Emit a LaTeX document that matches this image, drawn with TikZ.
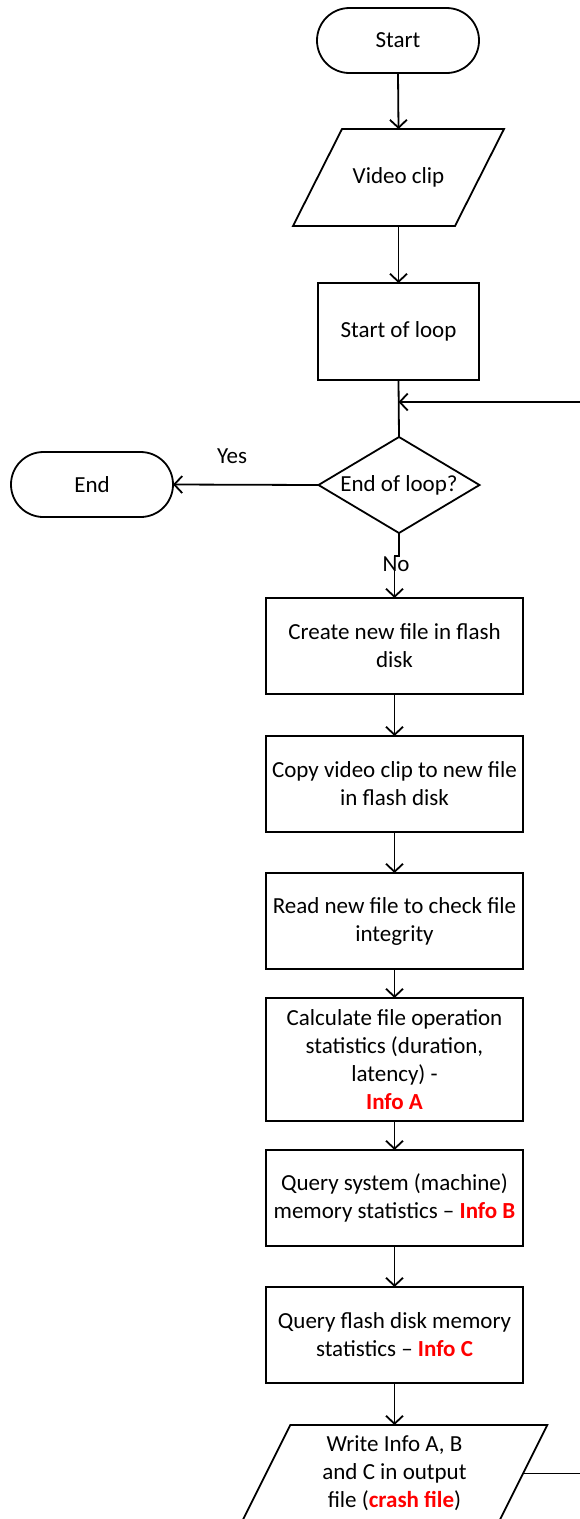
\documentclass[tikz,border=0pt]{standalone}
\usepackage{fontspec}
\setmainfont{Carlito}
\usetikzlibrary{arrows.meta}
\definecolor{infored}{RGB}{255,0,0}
\newcommand{\infotag}[1]{\textcolor{infored}{\textbf{#1}}}
\tikzset{
  base/.style={font=\fontsize{23}{28}\selectfont, align=center, inner sep=0pt, outer sep=0pt},
  term/.style={base, draw, line width=1.8pt, rounded corners=32.4pt, minimum width=162pt, minimum height=65pt},
  procbox/.style={base, draw, line width=1.8pt, minimum width=257pt, minimum height=96pt},
  frame/.style={base, minimum width=#1, minimum height=97pt},
  outline/.style={line width=1.8pt, line join=miter},
  plainline/.style={line width=1.8pt},
  flow/.style={line width=1.8pt, -{Straight Barb[length=8pt,width=17pt,line width=1.8pt]}},
  lbl/.style={font=\fontsize{23}{28}\selectfont, inner sep=0pt}
}
\begin{document}
\begin{tikzpicture}[x=1pt, y=-1pt]
\useasboundingbox (0,0) rectangle (580,1519);
\clip (0,0) rectangle (580,1519);

% terminals, input shapes and decision
\node[term] (start) at (398,40.5) {Start};
\node[frame=162pt] (vid) at (398.5,177.5) {Video clip};
\draw[outline] ([xshift=24.5pt]vid.north west) -- ([xshift=24.5pt]vid.north east)
  -- ([xshift=-24.5pt]vid.south east) -- ([xshift=-24.5pt]vid.south west) -- cycle;
\node[procbox, minimum width=161pt, minimum height=97pt] (sol) at (398.5,331.5) {Start of loop};
\node[frame=161pt, minimum height=96pt] (dec) at (399,485) {End of loop?};
\draw[outline] (dec.north) -- (dec.east) -- (dec.south) -- (dec.west) -- cycle;
\node[term] (end) at (92,484.5) {End};

% loop body
\node[procbox] (b1) at (394.5,646) {Create new file in flash\\disk};
\node[procbox] (b2) at (394.5,784) {Copy video clip to new file\\in flash disk};
\node[procbox] (b3) at (394.5,921) {Read new file to check file\\integrity};
\node[procbox, minimum height=123pt] (b4) at (394.5,1059.5)
  {Calculate file operation\\statistics (duration,\\latency) -\\\infotag{Info A}};
\node[procbox] (b5) at (394.5,1198) {Query system (machine)\\memory statistics – \infotag{Info B}};
\node[procbox] (b6) at (394.5,1335) {Query flash disk memory\\statistics – \infotag{Info C}};
\node[frame=257pt] (out) at (394.5,1473.5) {Write Info A, B\\and C in output\\file (\infotag{crash file})};
\draw[outline] ([xshift=24.25pt]out.north west) -- ([xshift=24.25pt]out.north east)
  -- ([xshift=-24.25pt]out.south east) -- ([xshift=-24.25pt]out.south west) -- cycle;

% connectors
\coordinate (join) at (sol.south |- 0,402);
\draw[flow] (start.south) -- (vid.north);
\draw[flow] (vid.south) -- (sol.north);
\draw[plainline] (sol.south) -- (dec.north);
\draw[flow] (dec.west) -- (end.east);
\node[lbl] (yes) at (232,456) {Yes};
\draw[flow] (dec.south) -- ++(0,23) -| (b1.north);
\node[lbl] (no) at (396,564) {No};
\draw[flow] (b1.south) -- (b2.north);
\draw[flow] (b2.south) -- (b3.north);
\draw[flow] (b3.south) -- (b4.north);
\draw[flow] (b4.south) -- (b5.north);
\draw[flow] (b5.south) -- (b6.north);
\draw[flow] (b6.south) -- (out.north);
\draw[flow] (out.east) -- ++(80,0) |- (join);
\end{tikzpicture}
\end{document}
